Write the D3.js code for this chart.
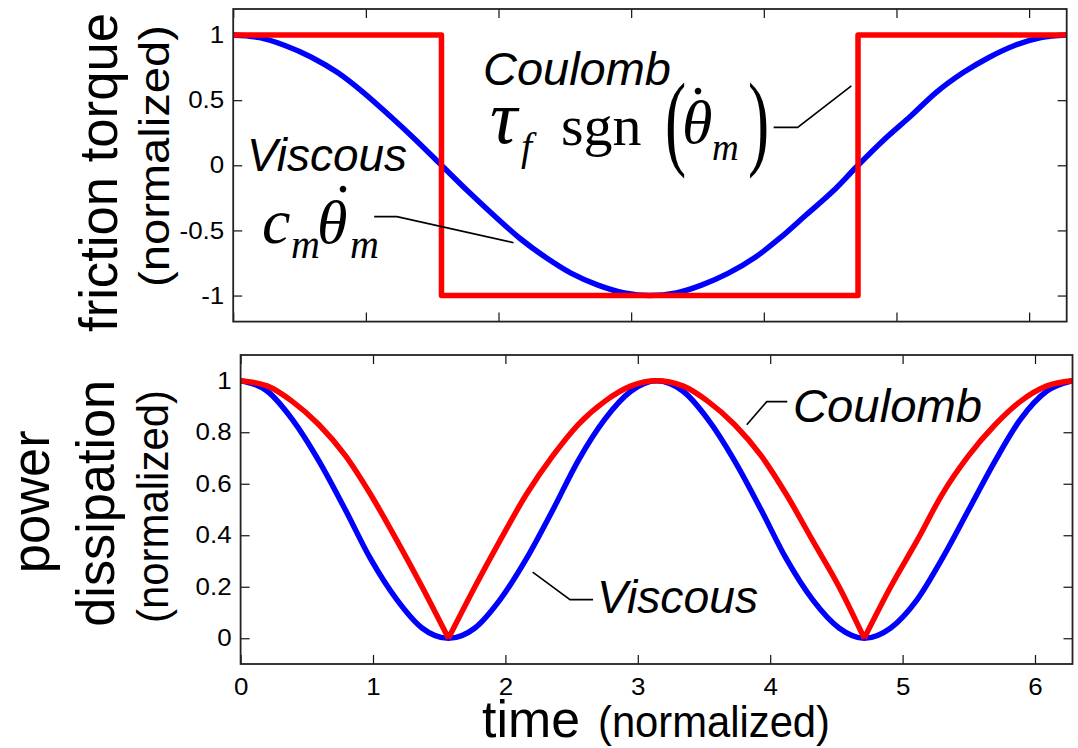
<!DOCTYPE html>
<html>
<head>
<meta charset="utf-8">
<script src="https://cdn.jsdelivr.net/npm/d3@7"></script>
<style>
  html, body { margin: 0; padding: 0; background: #fff; }
  svg { display: block; }
  text { font-family: "Liberation Sans", Arial, sans-serif; }
  .math { font-family: "Liberation Serif", "Times New Roman", serif; }
</style>
</head>
<body>
<script>
// ---------------- data ----------------
const time = [0, 0.2, 0.39, 0.59, 0.79, 0.98, 1.18, 1.37, 1.57, 1.77, 1.96, 2.16, 2.36, 2.55, 2.75, 2.95, 3.14,
              3.34, 3.53, 3.73, 3.93, 4.12, 4.32, 4.52, 4.71, 4.91, 5.11, 5.3, 5.5, 5.7, 5.89, 6.09, 6.28];
const viscousTorque = [1, 0.98, 0.92, 0.83, 0.71, 0.56, 0.38, 0.2, 0, -0.2, -0.38, -0.56, -0.71, -0.83, -0.92, -0.98, -1,
                       -0.98, -0.92, -0.83, -0.71, -0.56, -0.38, -0.2, 0, 0.2, 0.38, 0.56, 0.71, 0.83, 0.92, 0.98, 1];
const coulombTime = [0, 1.57, 1.57, 4.71, 4.71, 6.28];
const coulombTorque = [1, 1, -1, -1, 1, 1];
const viscousPower = [1, 0.96, 0.85, 0.69, 0.5, 0.31, 0.15, 0.04, 0, 0.04, 0.15, 0.31, 0.5, 0.69, 0.85, 0.96, 1,
                      0.96, 0.85, 0.69, 0.5, 0.31, 0.15, 0.04, 0, 0.04, 0.15, 0.31, 0.5, 0.69, 0.85, 0.96, 1];
const coulombPower = [1, 0.98, 0.92, 0.83, 0.71, 0.56, 0.38, 0.2, 0, 0.2, 0.38, 0.56, 0.71, 0.83, 0.92, 0.98, 1,
                      0.98, 0.92, 0.83, 0.71, 0.56, 0.38, 0.2, 0, 0.2, 0.38, 0.56, 0.71, 0.83, 0.92, 0.98, 1];
const xTicks = [0, 1, 2, 3, 4, 5, 6];
const torqueTicks = [-1, -0.5, 0, 0.5, 1];
const powerTicks = [0, 0.2, 0.4, 0.6, 0.8, 1];
// leader lines for the annotations, in data units
const viscousLeaderTop = [[1.063, -0.394], [1.234, -0.394], [2.114, -0.594]];
const coulombLeaderTop = [[4.074, 0.291], [4.255, 0.291], [4.66, 0.61]];
const coulombLeaderBot = [[4.129, 0.919], [3.974, 0.919], [3.823, 0.829]];
const viscousLeaderBot = [[2.662, 0.150], [2.488, 0.150], [2.206, 0.257]];

// ---------------- layout ----------------
const W = 1078, H = 748;
const P1 = {left: 233.2, right: 1066.7, top: 9, bottom: 321.6};
const P2 = {left: 240.6, right: 1072.5, top: 355, bottom: 664};
const BLUE = "#0000ff", RED = "#ff0000";
const LW = 5.5;

const svg = d3.select("body").append("svg").attr("width", W).attr("height", H);

const x1 = d3.scaleLinear().domain([0, 2 * Math.PI]).range([P1.left, P1.right]);
const y1 = d3.scaleLinear().domain([-1.2, 1.2]).range([P1.bottom, P1.top]);
const x2 = d3.scaleLinear().domain([0, 2 * Math.PI]).range([P2.left, P2.right]);
const y2 = d3.scaleLinear().domain([-0.1, 1.1]).range([P2.bottom, P2.top]);

function stretch(sel, k) {
  sel.each(function () {
    const w = this.getComputedTextLength();
    d3.select(this).attr("textLength", w * k).attr("lengthAdjust", "spacingAndGlyphs");
  });
}

function axes(P, x, y, yTicks, xLabels) {
  const g = svg.append("g");
  const fmt = d => String(d);
  g.append("g").attr("transform", `translate(${P.left},0)`)
    .call(d3.axisLeft(y).tickValues(yTicks).tickSize(-9).tickPadding(9).tickFormat(fmt));
  g.append("g").attr("transform", `translate(${P.right},0)`)
    .call(d3.axisRight(y).tickValues(yTicks).tickSize(-9).tickFormat(""));
  g.append("g").attr("transform", `translate(0,${P.bottom})`)
    .call(d3.axisBottom(x).tickValues(xTicks).tickSize(-9).tickPadding(14).tickFormat(xLabels ? fmt : ""));
  g.append("g").attr("transform", `translate(0,${P.top})`)
    .call(d3.axisTop(x).tickValues(xTicks).tickSize(-9).tickFormat(""));
  g.selectAll(".domain").remove();
  g.selectAll(".tick line").attr("stroke", "#111").attr("stroke-width", 1.2);
  g.selectAll(".tick text").attr("font-family", "Liberation Sans, Arial, sans-serif")
    .attr("font-size", 24).attr("fill", "#000");
  stretch(g.selectAll(".tick text"), 1.08);
  return g;
}

function frame(P) {
  svg.append("rect").attr("x", P.left).attr("y", P.top)
    .attr("width", P.right - P.left).attr("height", P.bottom - P.top)
    .attr("fill", "none").attr("stroke", "#222").attr("stroke-width", 1.8);
}

// ---------------- top panel ----------------
axes(P1, x1, y1, torqueTicks, false);
const line1 = d3.line().x(d => x1(d[0])).y(d => y1(d[1]));
svg.append("path").datum(time.map((t, i) => [t, viscousTorque[i]]))
  .attr("d", line1.curve(d3.curveMonotoneX)).attr("fill", "none")
  .attr("stroke", BLUE).attr("stroke-width", LW);
svg.append("path").datum(coulombTime.map((t, i) => [t, coulombTorque[i]]))
  .attr("d", d3.line().x(d => x1(d[0])).y(d => y1(d[1]))).attr("fill", "none")
  .attr("stroke", RED).attr("stroke-width", LW).attr("stroke-linejoin", "round");
frame(P1);

// ---------------- bottom panel ----------------
axes(P2, x2, y2, powerTicks, true);
const line2 = d3.line().x(d => x2(d[0])).y(d => y2(d[1])).curve(d3.curveMonotoneX);
svg.append("path").datum(time.map((t, i) => [t, viscousPower[i]]))
  .attr("d", line2).attr("fill", "none").attr("stroke", BLUE).attr("stroke-width", LW);
// split the Coulomb power at its cusps so the V shapes stay sharp
const cp = time.map((t, i) => [t, coulombPower[i]]);
const pieces = [];
let cur = [];
cp.forEach((d, i) => {
  cur.push(d);
  if (d[1] === 0 && i > 0 && i < cp.length - 1) { pieces.push(cur); cur = [d]; }
});
pieces.push(cur);
svg.append("path")
  .attr("d", pieces.map(p => line2(p)).join(""))
  .attr("fill", "none").attr("stroke", RED).attr("stroke-width", LW).attr("stroke-linejoin", "round");
frame(P2);

// ---------------- leader lines ----------------
function leader(pts, x, y) {
  svg.append("path").attr("d", d3.line().x(d => x(d[0])).y(d => y(d[1]))(pts))
    .attr("fill", "none").attr("stroke", "#000").attr("stroke-width", 1.6);
}
leader(viscousLeaderTop, x1, y1);
leader(coulombLeaderTop, x1, y1);
leader(coulombLeaderBot, x2, y2);
leader(viscousLeaderBot, x2, y2);

// ---------------- text ----------------
function txt(s, x, y, size, opts = {}) {
  const t = svg.append("text").attr("x", x).attr("y", y).attr("font-size", size).attr("fill", "#000").text(s);
  if (opts.italic) t.attr("font-style", "italic");
  if (opts.cls) t.attr("class", opts.cls);
  if (opts.len) t.attr("textLength", opts.len).attr("lengthAdjust", "spacingAndGlyphs");
  if (opts.anchor) t.attr("text-anchor", opts.anchor);
  if (opts.transform) t.attr("transform", opts.transform).attr("x", 0).attr("y", 0);
  return t;
}

// labels inside panels
txt("Coulomb", 483, 85, 47, {italic: true, len: 188});
txt("Viscous", 247, 171, 46, {italic: true, len: 160});
txt("Coulomb", 793, 422, 47, {italic: true, len: 189});
txt("Viscous", 597, 613, 46, {italic: true, len: 161});

// c_m theta-dot_m
txt("c", 262, 243, 64, {italic: true, cls: "math"});
txt("m", 291, 258, 40, {italic: true, cls: "math"});
txt("θ", 317, 243, 62, {italic: true, cls: "math"});
txt(".", 343, 192, 56, {cls: "math", anchor: "middle"});
txt("m", 350, 258, 40, {italic: true, cls: "math"});

// tau_f sgn( theta-dot_m )
txt("τ", 490, 143, 76, {italic: true, cls: "math"});
txt("f", 521, 160, 40, {italic: true, cls: "math"});
txt("sgn", 561, 145, 58, {cls: "math"});
txt("(", 0, 0, 106, {cls: "math", transform: "translate(665,156) scale(0.6,1)"});
txt("θ", 682, 143, 62, {italic: true, cls: "math"});
txt(".", 698, 94, 56, {cls: "math", anchor: "middle"});
txt("m", 712, 160, 37, {italic: true, cls: "math"});
txt(")", 0, 0, 106, {cls: "math", transform: "translate(748,156) scale(0.6,1)"});

// axis titles
txt("friction torque", 0, 0, 53, {anchor: "middle", len: 319, transform: "translate(117,172.5) rotate(-90)"});
txt("(normalized)", 0, 0, 43, {anchor: "middle", len: 262, transform: "translate(169,156) rotate(-90)"});
txt("power", 0, 0, 53, {anchor: "middle", len: 143, transform: "translate(49,501.7) rotate(-90)"});
txt("dissipation", 0, 0, 53, {anchor: "middle", len: 247, transform: "translate(114,503.3) rotate(-90)"});
txt("(normalized)", 0, 0, 44, {anchor: "middle", len: 233, transform: "translate(167.5,506.5) rotate(-90)"});
txt("time", 482, 737, 52, {len: 98});
txt("(normalized)", 598, 737, 45, {len: 232});
</script>
</body>
</html>
